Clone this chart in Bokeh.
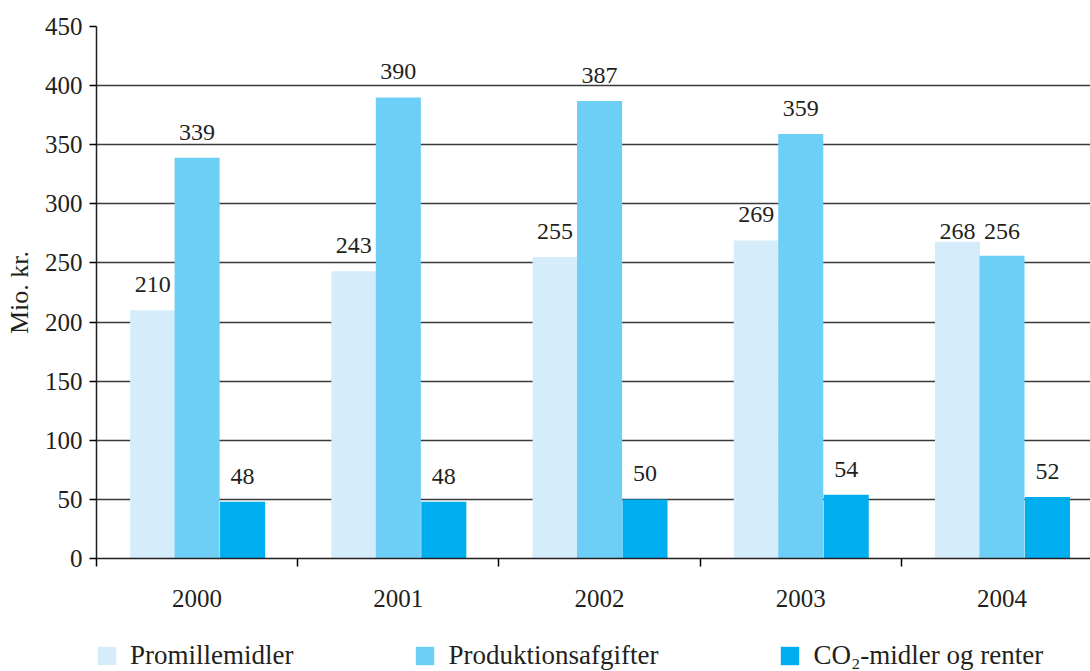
from bokeh.plotting import figure
from bokeh.models import (ColumnDataSource, Range1d, FixedTicker, LabelSet,
                          Legend, LegendItem)
from bokeh.layouts import column
from bokeh.core.properties import value
from bokeh.embed import file_html
from bokeh.resources import INLINE

years = ["2000", "2001", "2002", "2003", "2004"]
promille = [210, 243, 255, 269, 268]
produktion = [339, 390, 387, 359, 256]
co2 = [48, 48, 50, 54, 52]
series_names = ["Promillemidler", "Produktionsafgifter", "CO\u2082-midler og renter"]
colors = ["#d5edfa", "#6dcff6", "#00aeef"]
yticks = [0, 50, 100, 150, 200, 250, 300, 350, 400, 450]

FONT = "Liberation Serif"
TXT = "#231f20"

p = figure(width=1090, height=613, output_backend="svg", toolbar_location=None,
           x_range=Range1d(0, 4.94), y_range=Range1d(0, 450),
           min_border_left=96, min_border_right=0, min_border_top=26,
           min_border_bottom=55)
p.outline_line_color = None
p.xgrid.grid_line_color = None
p.ygrid.grid_line_color = "#3a3a3a"
p.ygrid.grid_line_width = 1.5
p.ygrid.ticker = FixedTicker(ticks=yticks)

# x axis: labels at centres, tick marks at boundaries
p.xaxis.ticker = FixedTicker(ticks=[i + 0.5 for i in range(len(years))],
                             minor_ticks=list(range(len(years) + 1)))
p.xaxis.major_label_overrides = {i + 0.5: y for i, y in enumerate(years)}
p.xaxis.major_tick_line_color = None
p.xaxis.minor_tick_out = 8
p.xaxis.minor_tick_in = 0
p.xaxis.minor_tick_line_width = 1.5
p.xaxis.axis_line_width = 1.5
p.xaxis.axis_line_color = "#231f20"
p.xaxis.major_label_standoff = 23
p.xaxis.major_label_text_font = FONT
p.xaxis.major_label_text_font_size = "25px"
p.xaxis.major_label_text_color = TXT

p.yaxis.ticker = FixedTicker(ticks=yticks)
p.yaxis.minor_tick_line_color = None
p.yaxis.major_tick_out = 7
p.yaxis.major_tick_in = 0
p.yaxis.major_tick_line_width = 1.5
p.yaxis.axis_line_width = 1.5
p.yaxis.axis_line_color = "#231f20"
p.yaxis.major_label_standoff = 7
p.yaxis.major_label_text_font = FONT
p.yaxis.major_label_text_font_size = "25px"
p.yaxis.major_label_text_color = TXT
p.yaxis.axis_label = "Mio. kr."
p.yaxis.axis_label_text_font = FONT
p.yaxis.axis_label_text_font_style = "normal"
p.yaxis.axis_label_text_font_size = "26px"
p.yaxis.axis_label_text_color = TXT
p.yaxis.axis_label_standoff = 8

width = 0.224
offsets = [-0.221, 0.0, 0.226]
label_lift = [[18, 18, 18, 18, 3], [18, 18, 18, 18, 17], [18, 18, 18, 18, 18]]

# legend-only strip below the chart (its frame is aligned with the chart's)
lg = figure(width=1090, height=58, output_backend="svg", toolbar_location=None,
            x_range=Range1d(0, 1), y_range=Range1d(0, 1),
            x_axis_location=None, y_axis_location=None,
            min_border_left=0, min_border_right=0, min_border_top=0,
            min_border_bottom=0)
lg.grid.visible = False
lg.outline_line_color = None

items = []
for k, vals in enumerate([promille, produktion, co2]):
    src = ColumnDataSource(dict(
        x=[i + 0.5 + offsets[k] for i in range(len(years))],
        top=vals,
        txt=[str(v) for v in vals],
        lift=label_lift[k],
    ))
    p.vbar(x="x", top="top", width=width, bottom=0, source=src,
           fill_color=colors[k], line_color=None)
    lbl = LabelSet(x="x", y="top", text="txt", y_offset="lift", source=src,
                   text_align="center", text_baseline="alphabetic",
                   text_font=value(FONT), text_font_size=value("24px"),
                   text_color=TXT)
    p.add_layout(lbl)
    # off-screen proxy bar so the legend swatch has a renderer
    r = lg.vbar(x=[5], top=[0.5], width=0.1, fill_color=colors[k], line_color=None)
    items.append(LegendItem(label=series_names[k], renderers=[r]))

legend = Legend(items=items, orientation="horizontal", location=(-1, 0),
                label_text_font=FONT, label_text_font_size="27px",
                label_text_color=TXT, glyph_width=23, glyph_height=23,
                label_standoff=12, spacing=120, padding=0, margin=0,
                border_line_color=None, background_fill_alpha=0)
lg.add_layout(legend, "center")

open("out.html", "w").write(file_html(column(p, lg, spacing=0), INLINE))
